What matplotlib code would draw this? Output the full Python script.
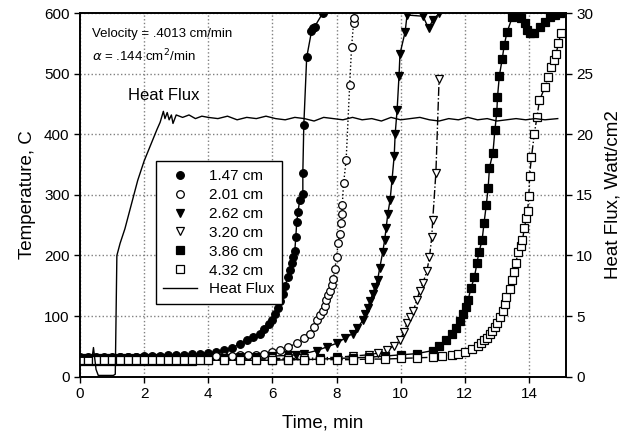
import matplotlib
matplotlib.use("Agg")
import matplotlib.pyplot as plt
from matplotlib.lines import Line2D

plt.rcParams['font.family'] = ['Liberation Sans', 'DejaVu Sans']

# thermocouple depths
labels = ["1.47 cm", "2.01 cm", "2.62 cm", "3.20 cm", "3.86 cm", "4.32 cm"]

base_t = [0, 0.25, 0.5, 0.75, 1.0, 1.25, 1.5, 1.75, 2.0, 2.25, 2.5, 2.75, 3.0,
          3.25, 3.5, 3.75, 4.0]

# 1.47 cm
t1 = base_t + [4.25, 4.5, 4.75, 5.0, 5.2, 5.4, 5.6, 5.75, 5.9, 5.98,
               6.08, 6.17, 6.25, 6.33, 6.4, 6.48, 6.55, 6.6, 6.65, 6.7,
               6.73, 6.76, 6.8, 6.85, 6.95, 6.95, 6.98, 7.07, 7.22, 7.28,
               7.32, 7.57]
T1 = [33, 33, 32, 33, 33, 33, 33, 33, 34, 34, 34, 35, 35, 36, 37, 38, 39,
      41, 44, 48, 54, 60, 66, 71, 79, 87, 93,
      103, 114, 125, 137, 150, 164, 176, 187, 197, 208,
      230, 255, 272, 291, 302, 337, 415, 527, 570, 575,
      578, 600]

# 2.01 cm
t2 = base_t + [4.25, 4.5, 4.75, 5.0, 5.25, 5.5, 5.75, 6.0, 6.25, 6.5,
               6.76, 7.0, 7.17, 7.3, 7.4, 7.5, 7.57, 7.63, 7.68, 7.74,
               7.8, 7.85, 7.9, 7.95, 8.0, 8.05, 8.1, 8.13, 8.16, 8.18,
               8.22, 8.3, 8.41, 8.47, 8.53, 8.56]
T2 = [31, 31, 31, 31, 31, 32, 32, 32, 32, 32, 32, 32, 32, 33, 33, 33, 33,
      34, 34, 34, 35, 35, 36, 37, 40, 44, 49,
      55, 64, 71, 82, 93, 102, 109, 117, 126, 134,
      142, 152, 162, 178, 197, 220, 236, 253, 269, 283,
      319, 357, 481, 544, 583, 592]

# 2.62 cm
t3 = base_t + [4.5, 5.0, 5.5, 6.0, 6.5, 6.75, 7.0, 7.38, 7.7, 8.0,
               8.25, 8.5, 8.65, 8.82, 8.9, 8.97, 9.05, 9.13, 9.2, 9.28,
               9.35, 9.44, 9.5, 9.55, 9.6, 9.67, 9.73, 9.8, 9.83, 9.89,
               9.95, 9.98, 10.14, 10.2, 10.7, 10.87, 11.0, 11.2]
T3 = [30, 30, 30, 30, 30, 30, 30, 30, 30, 30, 30, 30, 31, 31, 31, 31, 31,
      31, 32, 33, 34, 35, 36, 38, 43, 49, 55,
      63, 71, 80, 93, 103, 114, 125, 137, 148, 159,
      180, 205, 225, 246, 269, 291, 324, 365, 401, 440,
      497, 533, 569, 597, 595, 575, 588, 600]

# 3.20 cm
t4 = base_t + [4.5, 5.0, 5.5, 6.0, 6.5, 7.0, 7.5, 8.0, 8.5, 9.0,
               9.3, 9.58, 9.8, 9.97, 10.1, 10.2, 10.3, 10.4, 10.5, 10.6,
               10.7, 10.82, 10.9, 10.97, 11.0, 11.1, 11.2]
T4 = [28, 28, 28, 28, 28, 28, 28, 28, 28, 28, 28, 28, 28, 28, 28, 29, 29,
      29, 29, 29, 30, 30, 30, 31, 32, 34, 36,
      39, 44, 51, 60, 73, 88, 98, 109, 126, 142,
      155, 175, 197, 230, 258, 337, 492]

# 3.86 cm
t5 = base_t + [4.5, 5.0, 5.5, 6.0, 6.5, 7.0, 7.5, 8.0, 8.5, 9.0,
               9.5, 10.0, 10.5, 11.0, 11.2, 11.43, 11.6, 11.74, 11.85, 11.95,
               12.03, 12.1, 12.2, 12.3, 12.38, 12.44, 12.54, 12.6, 12.67, 12.73,
               12.77, 12.88, 12.94, 13.0, 13.02, 13.08, 13.17, 13.23, 13.32, 13.48,
               13.55, 13.66, 13.75, 13.88, 13.95, 14.04, 14.15, 14.35, 14.5, 14.66,
               14.8, 14.97]
T5 = [26, 26, 26, 26, 26, 26, 26, 26, 26, 26, 26, 26, 26, 26, 26, 27, 27,
      27, 27, 27, 27, 28, 28, 29, 30, 31, 32,
      34, 36, 38, 43, 50, 60, 70, 81, 92, 104,
      115, 126, 147, 164, 187, 205, 225, 253, 283, 312,
      345, 370, 407, 437, 461, 497, 525, 547, 569, 593,
      598, 600, 592, 583, 572, 567, 568, 577, 585, 593,
      597, 600]

# 4.32 cm
t6 = base_t + [4.5, 5.0, 5.5, 6.0, 6.5, 7.0, 7.5, 8.0, 8.5, 9.0,
               9.5, 10.0, 10.5, 11.0, 11.3, 11.6, 11.8, 12.0, 12.24, 12.4,
               12.5, 12.6, 12.68, 12.78, 12.85, 12.93, 13.0, 13.1, 13.18, 13.25,
               13.3, 13.4, 13.46, 13.55, 13.6, 13.65, 13.75, 13.8, 13.86, 13.92,
               13.96, 14.0, 14.02, 14.08, 14.17, 14.25, 14.33, 14.5, 14.6, 14.68,
               14.78, 14.85, 14.92, 15.0]
T6 = [27, 27, 27, 27, 27, 27, 27, 27, 27, 27, 27, 27, 27, 27, 27, 27, 27,
      27, 27, 27, 28, 28, 28, 28, 28, 28, 29,
      29, 30, 31, 32, 34, 36, 38, 41, 46, 51,
      55, 60, 64, 70, 76, 82, 88, 98, 109, 120,
      131, 145, 159, 173, 187, 205, 215, 225, 246, 262,
      274, 299, 332, 362, 401, 428, 456, 478, 495, 511,
      523, 533, 550, 567]

# heat flux, W/cm2
tq = [0, 0.38, 0.42, 0.5, 0.57, 1.04, 1.1, 1.15, 1.25, 1.4,
      1.6, 1.8, 2.0, 2.2, 2.4, 2.5, 2.6, 2.65, 2.72, 2.78,
      2.85, 2.9, 3.0, 3.2, 3.4, 3.6, 3.8, 4.0, 4.3, 4.6,
      4.9, 5.2, 5.5, 5.8, 6.1, 6.4, 6.7, 7.0, 7.3, 7.6,
      7.9, 8.2, 8.5, 8.8, 9.1, 9.4, 9.7, 10.0, 10.3, 10.6,
      10.9, 11.2, 11.5, 11.8, 12.1, 12.4, 12.7, 13.0, 13.3, 13.6,
      13.9, 14.2, 14.5, 14.9]
q = [1.6, 1.6, 2.4, 0.6, 0.1, 0.1, 0.2, 10.0, 11.0, 12.2,
     14.2, 16.2, 17.8, 19.1, 20.4, 21.0, 21.9, 21.3, 21.8, 21.2,
     21.6, 20.9, 21.6, 21.4, 21.6, 21.3, 21.5, 21.4, 21.3, 21.5,
     21.2, 21.4, 21.3, 21.5, 21.3, 21.2, 21.4, 21.3, 21.1, 21.4,
     21.3, 21.2, 21.4, 21.2, 21.3, 21.1, 21.4, 21.2, 21.3, 21.4,
     21.2, 21.1, 21.3, 21.2, 21.4, 21.2, 21.3, 21.1, 21.2, 21.3,
     21.2, 21.3, 21.2, 21.3]

series = [(t1, T1), (t2, T2), (t3, T3), (t4, T4), (t5, T5), (t6, T6)]
markers = ['o', 'o', 'v', 'v', 's', 's']
faces = ['black', 'white', 'black', 'white', 'black', 'white']
lstyles = ['-', ':', '-', '-.', '-', '-.']

fig = plt.figure(figsize=(6.4, 4.4), dpi=100)
ax = fig.add_axes([0.125, 0.144, 0.759, 0.826])
ax2 = ax.twinx()

handles = []
for (tt, TT), m, fc, ls, lab in zip(series, markers, faces, lstyles, labels):
    ax.plot(tt, TT, color='black', linestyle=ls, linewidth=1.0, zorder=2)
    ax.plot(tt, TT, linestyle='none', marker=m, markersize=5.5,
            markerfacecolor=fc, markeredgecolor='black', markeredgewidth=0.9,
            zorder=3)
    handles.append(Line2D([], [], linestyle='none', marker=m, markersize=5.5,
                          markerfacecolor=fc, markeredgecolor='black',
                          markeredgewidth=0.9, label=lab))

ax2.plot(tq, q, color='black', linewidth=1.0)
handles.append(Line2D([], [], color='black', linewidth=1.0, label='Heat Flux'))

ax.set_xlim(0, 15.15)
ax.set_ylim(0, 600)
ax2.set_ylim(0, 30)
ax.set_xticks(range(0, 15, 2))
ax.set_yticks(range(0, 601, 100))
ax2.set_yticks(range(0, 31, 5))

ax.grid(True, linestyle=':', color='gray', linewidth=1.0)
ax.set_axisbelow(True)

for a in (ax, ax2):
    a.tick_params(labelsize=11, width=1.0, length=4)
    for s in a.spines.values():
        s.set_linewidth(1.2)

ax.set_xlabel("Time, min", fontsize=13.5, labelpad=10)
ax.set_ylabel("Temperature, C", fontsize=13.5, labelpad=6)
ax2.set_ylabel("Heat Flux, Watt/cm2", fontsize=13.5, labelpad=8)

ax.text(0.025, 0.96, "Velocity = .4013 cm/min", transform=ax.transAxes,
        fontsize=9.5, va='top')
ax.text(0.025, 0.905, r"$\alpha$ = .144 cm$^2$/min", transform=ax.transAxes,
        fontsize=9.5, va='top')
ax.text(2.6, 452, "Heat Flux", fontsize=12, ha='center', va='bottom')

leg = ax.legend(handles=handles, loc='upper left', bbox_to_anchor=(0.14, 0.613),
                fontsize=11, frameon=True, fancybox=False, edgecolor='black',
                framealpha=1, labelspacing=0.32, handlelength=2.2,
                borderpad=0.5)
leg.get_frame().set_linewidth(1.0)
leg.set_zorder(10)

fig.savefig("out.png", dpi=100)
